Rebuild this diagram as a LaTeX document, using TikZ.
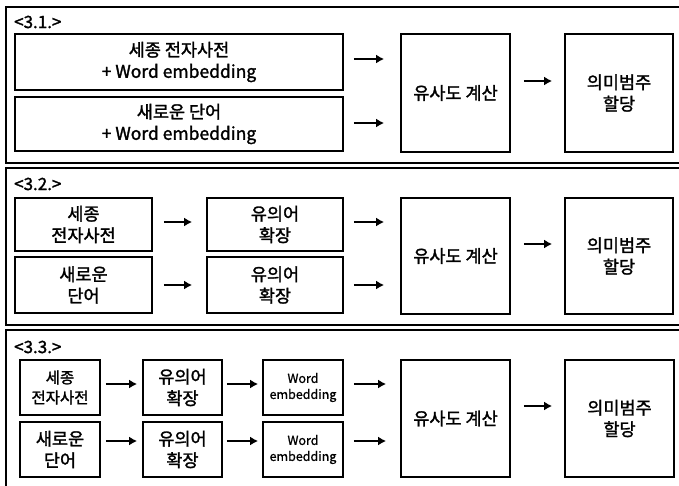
\documentclass[tikz,border=0pt]{standalone}
\usepackage{fontspec}
\setmainfont{Noto Sans CJK KR}[FakeBold=1.6]
\newfontfamily\wfont{Noto Sans CJK KR}[FakeBold=0.8]
\usetikzlibrary{arrows.meta}
\tikzset{
  box/.style={draw, line width=1.8pt, inner sep=0pt, align=center, font=\fontsize{17.5}{21.5}\selectfont},
  sbox/.style={box, font=\fontsize{15.5}{20}\selectfont},
  wbox/.style={box, font=\wfont\fontsize{12.5}{16}\selectfont},
  frame/.style={draw, line width=2.4pt},
  lbl/.style={anchor=west, inner sep=0pt, font=\fontsize{17}{19}\selectfont},
  arr/.style={line width=2pt, -{Latex[length=8pt,width=9pt]}}
}
\begin{document}
\begin{tikzpicture}[x=1pt,y=-1pt]
\useasboundingbox (0,0) rectangle (679,485);
\clip (0,0) rectangle (679,485);
\fill[white] (0,0) rectangle (679,485);
% frames
\draw[frame] (6,7) rectangle (700,163);
\draw[frame] (6,168) rectangle (700,325);
\draw[frame] (6,330) rectangle (700,500);
% labels
\node[lbl] (l1) at (14,22) {<3.1.>};
\node[lbl] (l2) at (14,184) {<3.2.>};
\node[lbl] (l3) at (14,347) {<3.3.>};
% ---- section 3.1
\node[box, minimum width=328pt, minimum height=56pt] (A) at (179,62) {세종 전자사전\\+ Word embedding};
\node[box, minimum width=328pt, minimum height=54pt] (B) at (179,124) {새로운 단어\\+ Word embedding};
\node[box, minimum width=109pt, minimum height=118pt] (sim1) at (455.5,93) {유사도 계산};
\node[box, minimum width=108pt, minimum height=118pt] (cat1) at (619,93) {의미범주\\할당};
\coordinate (r11) at (0,59);
\coordinate (r12) at (0,123);
\coordinate (r13) at (0,81);
\draw[arr, shorten <=10pt, shorten >=16pt] (A.east |- r11) -- (sim1.west |- r11);
\draw[arr, shorten <=10pt, shorten >=16pt] (B.east |- r12) -- (sim1.west |- r12);
\draw[arr, shorten <=13pt, shorten >=12pt] (sim1.east |- r13) -- (cat1.west |- r13);
% ---- section 3.2
\node[box, minimum width=137pt, minimum height=53pt] (C1) at (83.5,224.5) {세종\\전자사전};
\node[box, minimum width=137pt, minimum height=56pt] (C2) at (83.5,285) {새로운\\단어};
\node[box, minimum width=136pt, minimum height=53pt] (D1) at (275,224.5) {유의어\\확장};
\node[box, minimum width=136pt, minimum height=56pt] (D2) at (275,285) {유의어\\확장};
\node[box, minimum width=109pt, minimum height=116pt] (sim2) at (455.5,256) {유사도 계산};
\node[box, minimum width=108pt, minimum height=116pt] (cat2) at (619,256) {의미범주\\할당};
\coordinate (r21) at (0,222);
\coordinate (r22) at (0,285);
\coordinate (r23) at (0,244);
\draw[arr, shorten <=11pt, shorten >=14pt] (C1.east |- r21) -- (D1.west |- r21);
\draw[arr, shorten <=11pt, shorten >=14pt] (C2.east |- r22) -- (D2.west |- r22);
\draw[arr, shorten <=10pt, shorten >=16pt] (D1.east |- r21) -- (sim2.west |- r21);
\draw[arr, shorten <=10pt, shorten >=16pt] (D2.east |- r22) -- (sim2.west |- r22);
\draw[arr, shorten <=13pt, shorten >=12pt] (sim2.east |- r23) -- (cat2.west |- r23);
% ---- section 3.3
\node[sbox, minimum width=80pt, minimum height=55pt] (E1) at (60,387.5) {세종\\전자사전};
\node[box, minimum width=80pt, minimum height=55pt] (E2) at (60,449.5) {새로운\\단어};
\node[box, minimum width=79pt, minimum height=55pt] (F1) at (182.5,387.5) {유의어\\확장};
\node[box, minimum width=79pt, minimum height=55pt] (F2) at (182.5,449.5) {유의어\\확장};
\node[wbox, minimum width=80pt, minimum height=55pt] (G1) at (303,387.5) {Word\\embedding};
\node[wbox, minimum width=80pt, minimum height=55pt] (G2) at (303,449.5) {Word\\embedding};
\node[box, minimum width=109pt, minimum height=117pt] (sim3) at (455.5,418.5) {유사도 계산};
\node[box, minimum width=109pt, minimum height=117pt] (cat3) at (619.5,418.5) {의미범주\\할당};
\coordinate (r31) at (0,384);
\coordinate (r32) at (0,441);
\coordinate (r33) at (0,406);
\draw[arr, shorten <=5pt, shorten >=5pt] (E1.east |- r31) -- (F1.west |- r31);
\draw[arr, shorten <=5pt, shorten >=5pt] (E2.east |- r32) -- (F2.west |- r32);
\draw[arr, shorten <=4pt, shorten >=4pt] (F1.east |- r31) -- (G1.west |- r31);
\draw[arr, shorten <=4pt, shorten >=4pt] (F2.east |- r32) -- (G2.west |- r32);
\draw[arr, shorten <=10pt, shorten >=14pt] (G1.east |- r31) -- (sim3.west |- r31);
\draw[arr, shorten <=10pt, shorten >=14pt] (G2.east |- r32) -- (sim3.west |- r32);
\draw[arr, shorten <=13pt, shorten >=12pt] (sim3.east |- r33) -- (cat3.west |- r33);
\end{tikzpicture}
\end{document}
